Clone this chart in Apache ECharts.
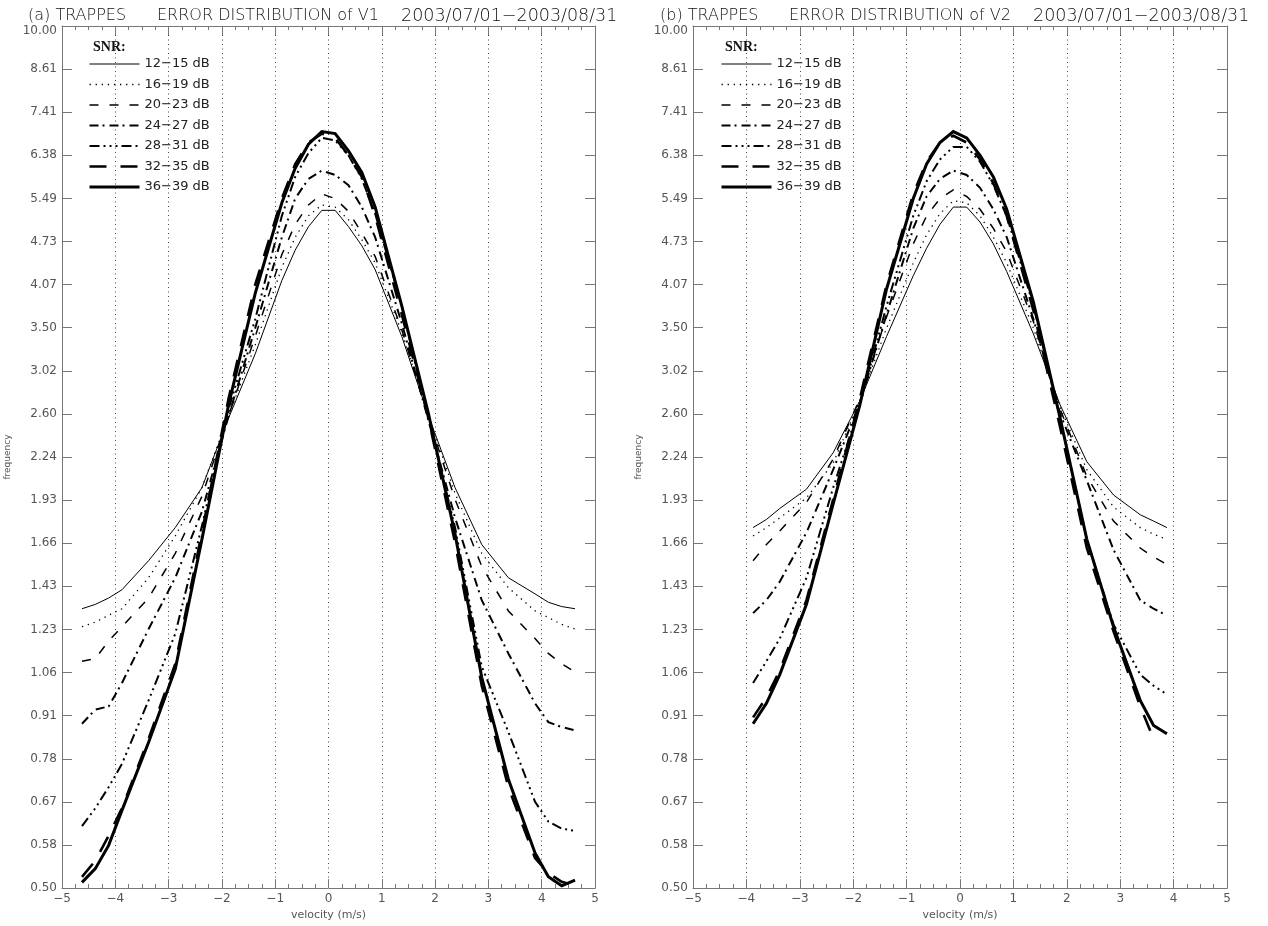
<!DOCTYPE html>
<html>
<head>
<meta charset="utf-8">
<script src="https://cdn.jsdelivr.net/npm/echarts@6/dist/echarts.min.js"></script>
<style>
html,body{margin:0;padding:0;background:#fff;}
#chart{width:1268px;height:926px;}
</style>
</head>
<body>
<div id="chart"></div>
<script>
// ---------- data ----------
const seriesNames = ['12\u221215 dB','16\u221219 dB','20\u221223 dB','24\u221227 dB','28\u221231 dB','32\u221235 dB','36\u221239 dB'];
const xTickLabels = ['\u22125','\u22124','\u22123','\u22122','\u22121','0','1','2','3','4','5'];
const yTickLabels = ['0.50','0.58','0.67','0.78','0.91','1.06','1.23','1.43','1.66','1.93','2.24','2.60','3.02','3.50','4.07','4.73','5.49','6.38','7.41','8.61','10.00'];

// panel (a): V1
const velocityA = [-4.625,-4.375,-4.125,-3.875,-3.375,-2.875,-2.375,-1.875,-1.375,-0.875,-0.625,-0.375,-0.125,0.125,0.375,0.625,0.875,1.375,1.875,2.375,2.875,3.375,3.875,4.125,4.375,4.625];
const a12_15 = [1.32,1.34,1.37,1.41,1.56,1.75,2.01,2.56,3.20,4.13,4.59,4.98,5.27,5.27,4.98,4.66,4.29,3.40,2.58,2.01,1.65,1.47,1.39,1.35,1.33,1.32];
const a16_19 = [1.24,1.26,1.29,1.32,1.47,1.70,2.01,2.58,3.30,4.32,4.80,5.17,5.37,5.33,5.10,4.76,4.39,3.45,2.58,1.97,1.60,1.42,1.31,1.28,1.25,1.23];
const a20_23 = [1.10,1.11,1.18,1.24,1.37,1.60,1.95,2.58,3.40,4.52,5.02,5.37,5.58,5.49,5.25,4.87,4.49,3.48,2.56,1.93,1.53,1.31,1.19,1.13,1.09,1.06];
const a24_27 = [0.885,0.93,0.94,1.02,1.23,1.47,1.85,2.58,3.50,4.80,5.49,5.88,6.05,5.96,5.75,5.33,4.80,3.56,2.54,1.81,1.36,1.13,0.95,0.89,0.875,0.865];
const a28_31 = [0.62,0.66,0.71,0.77,0.96,1.21,1.76,2.64,3.61,5.17,5.92,6.43,6.78,6.72,6.38,5.88,5.21,3.78,2.55,1.75,1.08,0.86,0.675,0.63,0.615,0.61];
const a32_35 = [0.52,0.55,0.60,0.66,0.84,1.09,1.72,2.74,4.07,5.49,6.19,6.67,6.88,6.78,6.38,5.92,5.17,3.67,2.56,1.66,1.01,0.71,0.555,0.527,0.511,0.504];
const a36_39 = [0.51,0.535,0.58,0.655,0.83,1.07,1.68,2.68,3.95,5.41,6.10,6.63,6.93,6.88,6.48,6.01,5.33,3.78,2.60,1.71,1.04,0.73,0.565,0.52,0.504,0.514];

// panel (b): V2
const velocityB = [-3.875,-3.625,-3.375,-2.875,-2.375,-1.875,-1.375,-0.875,-0.625,-0.375,-0.125,0.125,0.375,0.625,0.875,1.375,1.875,2.375,2.875,3.375,3.625,3.875];
const b12_15 = [1.75,1.80,1.87,2.00,2.27,2.72,3.40,4.20,4.62,5.02,5.33,5.33,5.06,4.69,4.26,3.43,2.68,2.20,1.96,1.83,1.79,1.75];
const b16_19 = [1.70,1.75,1.81,1.94,2.19,2.72,3.50,4.39,4.84,5.21,5.45,5.41,5.17,4.80,4.39,3.50,2.66,2.14,1.88,1.75,1.71,1.68];
const b20_23 = [1.56,1.65,1.73,1.91,2.22,2.74,3.64,4.69,5.17,5.49,5.66,5.53,5.29,4.95,4.56,3.58,2.64,2.09,1.79,1.63,1.58,1.54];
const b24_27 = [1.30,1.36,1.45,1.72,2.14,2.70,3.67,4.95,5.53,5.88,6.05,5.96,5.70,5.29,4.80,3.61,2.60,2.06,1.62,1.36,1.32,1.29];
const b28_31 = [1.02,1.10,1.19,1.47,2.01,2.68,3.78,5.17,5.83,6.29,6.57,6.57,6.24,5.75,5.17,3.78,2.56,1.68,1.25,1.05,1.01,0.98];
const b32_35 = [0.905,0.97,1.065,1.36,1.93,2.74,4.07,5.58,6.24,6.67,6.83,6.67,6.29,5.79,5.17,3.72,2.48,1.63,1.22,0.94,0.84,null];
const b36_39 = [0.885,0.95,1.05,1.34,1.90,2.68,4.01,5.49,6.19,6.67,6.93,6.78,6.38,5.92,5.29,3.83,2.56,1.68,1.24,0.96,0.88,0.855];

// ---------- styling ----------
const FONT = 'DejaVu Sans';
const AX = '#777';
const lineStyles = [
  {width:1,   type:'solid'},
  {width:1.3, type:[1.3,4.8]},
  {width:1.5, type:[9,11]},
  {width:2,   type:[9,4,2,5]},
  {width:2,   type:[10,4,2,4,2,4,2,4]},
  {width:2.6, type:[17,14]},
  {width:3,   type:'solid'}
];
// frequency axis: 20 equal steps from 0.50 to 10.00 (geometric)
const FMIN = 0.5, FRATIO = 20, NSTEP = 20;
function toStep(v){ return NSTEP*Math.log(v/FMIN)/Math.log(FRATIO); }

const grids = [
  {left:62, right:673, top:26, bottom:34},
  {left:693, right:41, top:26, bottom:34}
];

function xAxes(g){
  return [
    {type:'value', gridIndex:g, min:-5, max:5, interval:1, position:'bottom',
     axisLine:{show:true, onZero:false, lineStyle:{color:AX}},
     axisTick:{show:true, inside:true, length:9, lineStyle:{color:AX}},
     minorTick:{show:true, splitNumber:4, length:4, lineStyle:{color:AX}},
     axisLabel:{formatter:v=>xTickLabels[Math.round(v)+5], fontFamily:FONT, fontSize:12, color:'#555', margin:5},
     splitLine:{show:true, showMinLine:false, showMaxLine:false, lineStyle:{color:'#444', width:1, type:[1,3.5]}},
     name:'velocity (m/s)', nameLocation:'middle', nameGap:21,
     nameTextStyle:{fontFamily:FONT, fontSize:11, color:'#555'}},
    {type:'value', gridIndex:g, min:-5, max:5, interval:1, position:'top',
     axisLine:{show:true, onZero:false, lineStyle:{color:AX}},
     axisTick:{show:true, inside:true, length:9, lineStyle:{color:AX}},
     minorTick:{show:true, splitNumber:4, length:4, lineStyle:{color:AX}},
     axisLabel:{show:false}, splitLine:{show:false}}
  ];
}
function yAxes(g){
  return [
    {type:'value', gridIndex:g, min:0, max:NSTEP, interval:1, position:'left',
     axisLine:{show:true, onZero:false, lineStyle:{color:AX}},
     axisTick:{show:true, inside:true, length:10, lineStyle:{color:AX}},
     axisLabel:{formatter:v=>{const i=Math.round(v); return i===NSTEP?'{t|'+yTickLabels[i]+'}':yTickLabels[i];},
       fontFamily:FONT, fontSize:12, color:'#555', margin:5,
       rich:{t:{fontFamily:FONT, fontSize:12, color:'#555', padding:[10,0,0,0]}}},
     splitLine:{show:false},
     name:'frequency', nameLocation:'middle', nameGap:50,
     nameTextStyle:{fontFamily:FONT, fontSize:9, color:'#555'}},
    {type:'value', gridIndex:g, min:0, max:NSTEP, interval:1, position:'right',
     axisLine:{show:true, onZero:false, lineStyle:{color:AX}},
     axisTick:{show:true, inside:true, length:10, lineStyle:{color:AX}},
     axisLabel:{show:false}, splitLine:{show:false}}
  ];
}

function makeSeries(g, xs, arrays){
  return arrays.map((vals, k) => ({
    type:'line', name:seriesNames[k], xAxisIndex:g*2, yAxisIndex:g*2,
    symbol:'none', silent:true, animation:false, z:2+k,
    itemStyle:{color:'#000'},
    data: xs.map((x,i)=> vals[i]==null ? null : [x, toStep(vals[i])]).filter(d=>d!==null),
    lineStyle:Object.assign({color:'#000', cap:'butt', join:'miter'}, lineStyles[k])
  }));
}

const titleStyle = {fontFamily:FONT, fontSize:16, fontWeight:300, color:'#111'};
function titleParts(tag, v, x0){
  return [
    {text:'('+tag+') TRAPPES', left:x0, top:8, padding:0, textStyle:titleStyle},
    {text:'ERROR DISTRIBUTION of '+v, left:x0+129, top:8, padding:0, textStyle:titleStyle},
    {text:'2003/07/01\u22122003/08/31', left:x0+373, top:7, padding:0, textStyle:Object.assign({}, titleStyle, {fontSize:17.5})},
    {text:'SNR:', left:x0+65, top:40, padding:0, textStyle:{fontFamily:'Liberation Serif', fontSize:14, fontWeight:'bold', color:'#111'}}
  ];
}

function legendAt(x){
  return {
    data: seriesNames.map((n,k)=>({name:n, lineStyle:{width:lineStyles[k].width, type:lineStyles[k].type, color:'#000', cap:'butt'}})),
    orient:'vertical', left:x, top:57, padding:0, itemWidth:50, itemHeight:14, itemGap:6.5,
    selectedMode:false, itemStyle:{opacity:0},
    textStyle:{fontFamily:FONT, fontSize:13, color:'#222', lineHeight:14}};
}

const option = {
  animation:false,
  backgroundColor:'#fff',
  title: titleParts('a','V1',28).concat(titleParts('b','V2',660)),
  legend:[legendAt(88), legendAt(720)],
  grid: grids,
  xAxis: xAxes(0).concat(xAxes(1)),
  yAxis: yAxes(0).concat(yAxes(1)),
  series: makeSeries(0, velocityA, [a12_15,a16_19,a20_23,a24_27,a28_31,a32_35,a36_39])
    .concat(makeSeries(1, velocityB, [b12_15,b16_19,b20_23,b24_27,b28_31,b32_35,b36_39]))
};

const chart = echarts.init(document.getElementById('chart'), null, {renderer:'canvas'});
chart.setOption(option);
</script>
</body>
</html>
